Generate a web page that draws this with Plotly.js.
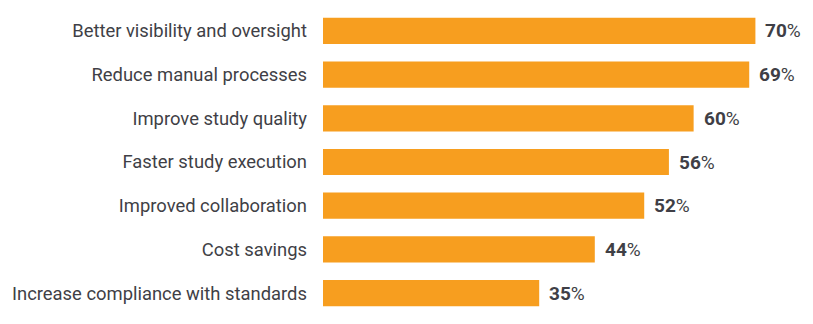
<!DOCTYPE html>
<html><head><meta charset="utf-8">
<script src="https://cdn.plot.ly/plotly-3.0.1.min.js"></script>
<style>html,body{margin:0;padding:0;background:#fff}#chart{width:813px;height:324px}</style>
</head><body><div id="chart"></div>
<script>
const categories = ["Better visibility and oversight","Reduce manual processes","Improve study quality","Faster study execution","Improved collaboration","Cost savings","Increase compliance with standards"];
const values = [70,69,60,56,52,44,35];
const barColor = "#F79E1F";
const textColor = "#3F3F46";

const trace = {
  type: "bar", orientation: "h",
  x: values, y: categories,
  marker: {color: barColor},
  hoverinfo: "none"
};
const annotations = values.map((v,i)=>({
  x: v, y: categories[i], xref: "x", yref: "y",
  text: "<b>"+v+"</b>%", showarrow: false,
  xanchor: "left", xshift: 8,
  font: {family: "Roboto", size: 19, color: textColor}
}));
const layout = {
  width: 813, height: 324,
  margin: {l: 323, r: 2, t: 9, b: 9},
  paper_bgcolor: "#fff", plot_bgcolor: "#fff",
  bargap: 0.4,
  showlegend: false,
  xaxis: {range: [0, 79], visible: false, fixedrange: true},
  yaxis: {autorange: "reversed", showgrid: false, zeroline: false, showline: false,
          ticks: "", ticklabelstandoff: 15,
          tickfont: {family: "Roboto", size: 18.4, color: textColor}},
  annotations: annotations
};
Plotly.newPlot("chart", [trace], layout, {displayModeBar: false, staticPlot: true});
</script></body></html>
